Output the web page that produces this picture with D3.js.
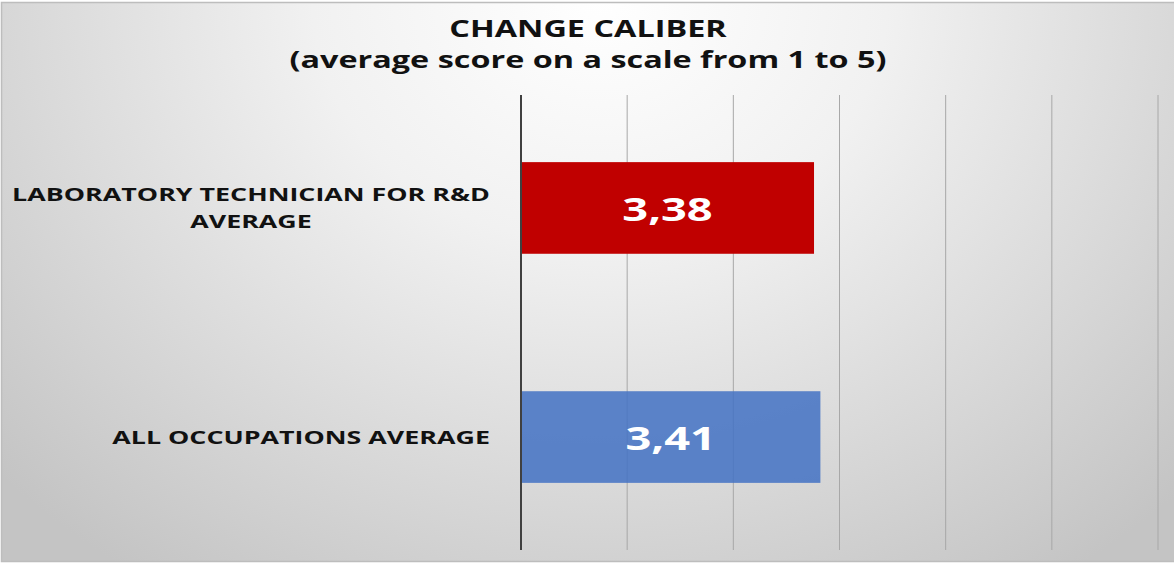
<!DOCTYPE html>
<html><head><meta charset="utf-8">
<script src="https://cdn.jsdelivr.net/npm/d3@7"></script>
<style>
html,body{margin:0;padding:0;background:#fff;}
svg{display:block;}
</style></head>
<body>
<svg id="chart" width="1174" height="563"></svg>
<script>
const titleLines = ["CHANGE CALIBER", "(average score on a scale from 1 to 5)"];
const categories = ["LABORATORY TECHNICIAN FOR R&D AVERAGE", "ALL OCCUPATIONS AVERAGE"];
const categoryLines = [["LABORATORY TECHNICIAN FOR R&D", "AVERAGE"], ["ALL OCCUPATIONS AVERAGE"]];
const values = [3.38, 3.41];
const valueLabels = ["3,38", "3,41"];
const barColors = ["#C00000", "#4472C4"];
const barOpacity = [1, 0.86];
const xDomain = [2, 5];
const gridTicks = [2.5, 3, 3.5, 4, 4.5, 5];

const W = 1174, H = 563;
const FONT = "'Open Sans', sans-serif";
const svg = d3.select("#chart");
const defs = svg.append("defs");
const grad = defs.append("radialGradient").attr("id","bg")
  .attr("gradientUnits","userSpaceOnUse")
  .attr("cx", 600).attr("cy", 0).attr("r", 820)
  .attr("gradientTransform","translate(600,0) scale(1,0.85) translate(-600,0)");
grad.append("stop").attr("offset","0%").attr("stop-color","#ffffff");
grad.append("stop").attr("offset","35%").attr("stop-color","#f1f1f1");
grad.append("stop").attr("offset","100%").attr("stop-color","#c4c4c4");

svg.append("rect").attr("x",0).attr("y",0).attr("width",W).attr("height",H).attr("fill","#fff");
svg.append("rect").attr("x",1.5).attr("y",2.5).attr("width",W+5).attr("height",H-4)
  .attr("fill","url(#bg)").attr("stroke","#bdbdbd").attr("stroke-width",1.5);

const x = d3.scaleLinear().domain(xDomain).range([521, 1158]);
const y = d3.scaleBand().domain(categories).range([95, 550]).paddingInner(0.6).paddingOuter(0.293);

// gridlines
svg.append("g").selectAll("line").data(gridTicks).join("line")
  .attr("x1", d => x(d)).attr("x2", d => x(d))
  .attr("y1", 95).attr("y2", 550)
  .attr("stroke", "#a8a8a8").attr("stroke-width", 1);

// bars
svg.append("g").selectAll("rect").data(categories).join("rect")
  .attr("x", x(xDomain[0]))
  .attr("y", d => y(d))
  .attr("width", (d,i) => x(values[i]) - x(xDomain[0]))
  .attr("height", y.bandwidth())
  .attr("fill", (d,i) => barColors[i])
  .attr("fill-opacity", (d,i) => barOpacity[i]);

// axis line
svg.append("line").attr("x1", x(xDomain[0])).attr("x2", x(xDomain[0]))
  .attr("y1", 95).attr("y2", 550).attr("stroke", "#404040").attr("stroke-width", 2);

// value labels (text is horizontally stretched in the reference)
const valSize = 33, valSX = 1.37;
svg.append("g").selectAll("text").data(categories).join("text")
  .attr("transform", (d,i) => `translate(${(x(xDomain[0]) + x(values[i])) / 2},${y(d) + y.bandwidth()/2 + 13}) scale(${valSX},1)`)
  .attr("text-anchor", "middle")
  .attr("font-family", FONT)
  .attr("font-weight", 700)
  .attr("font-size", valSize)
  .attr("fill", "#ffffff")
  .text((d,i) => valueLabels[i]);

// category labels: right-aligned block, lines centered within block
const catSize = 18, catSX = 1.49, lineH = 27, labelRight = 490;
categories.forEach((c, i) => {
  const lines = categoryLines[i];
  const cy = y(c) + y.bandwidth()/2;
  const g = svg.append("g");
  const texts = lines.map((ln, j) => g.append("text")
    .attr("font-family", FONT)
    .attr("font-weight", 700)
    .attr("font-size", catSize)
    .attr("fill", "#111")
    .attr("text-anchor", "middle")
    .text(ln));
  const maxW = d3.max(texts, t => t.node().getComputedTextLength()) * catSX;
  const cx = labelRight - maxW / 2;
  texts.forEach((t, j) => {
    const base = cy + (j - (lines.length-1)/2) * lineH + 7;
    t.attr("transform", `translate(${cx},${base}) scale(${catSX},1)`);
  });
});

// title
const titleSize = 22.5, titleSX = 1.44;
svg.append("g").selectAll("text").data(titleLines).join("text")
  .attr("transform", (d,i) => `translate(588,${37 + i*31}) scale(${titleSX},1)`)
  .attr("text-anchor", "middle")
  .attr("font-family", FONT)
  .attr("font-weight", 700)
  .attr("font-size", titleSize)
  .attr("fill", "#111")
  .text(d => d);
</script>
</body></html>
